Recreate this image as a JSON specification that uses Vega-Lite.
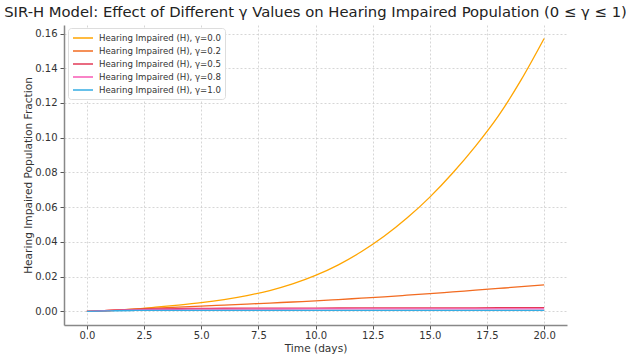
{
  "$schema": "https://vega.github.io/schema/vega-lite/v6.json",
  "width": 503,
  "height": 300,
  "autosize": {"type": "none"},
  "padding": {"left": 64, "top": 25, "right": 59, "bottom": 35},
  "background": "white",
  "title": {"text": "SIR-H Model: Effect of Different γ Values on Hearing Impaired Population (0 ≤ γ ≤ 1)", "font": "DejaVu Sans", "fontSize": 14.8, "fontWeight": "normal", "color": "#222222", "anchor": "middle", "offset": 5},
  "config": {
    "view": {"stroke": null},
    "axis": {"labelFont": "DejaVu Sans", "titleFont": "DejaVu Sans", "labelFontSize": 10, "titleFontSize": 10.6, "titleFontWeight": "normal", "labelColor": "#333333", "titleColor": "#333333", "domainColor": "#888888", "domainWidth": 1.5, "tickColor": "#555555", "tickSize": 4, "gridColor": "#cccccc", "gridDash": [2, 2], "gridWidth": 0.8}
  },
  "data": {"values": [
    {"t":0,"H":0,"s":"Hearing Impaired (H), γ=0.0"},
    {"t":1,"H":0.0005,"s":"Hearing Impaired (H), γ=0.0"},
    {"t":2,"H":0.0013,"s":"Hearing Impaired (H), γ=0.0"},
    {"t":3,"H":0.0024,"s":"Hearing Impaired (H), γ=0.0"},
    {"t":4,"H":0.0036,"s":"Hearing Impaired (H), γ=0.0"},
    {"t":5,"H":0.0050,"s":"Hearing Impaired (H), γ=0.0"},
    {"t":6,"H":0.0068,"s":"Hearing Impaired (H), γ=0.0"},
    {"t":7,"H":0.0091,"s":"Hearing Impaired (H), γ=0.0"},
    {"t":8,"H":0.0120,"s":"Hearing Impaired (H), γ=0.0"},
    {"t":9,"H":0.0158,"s":"Hearing Impaired (H), γ=0.0"},
    {"t":10,"H":0.0207,"s":"Hearing Impaired (H), γ=0.0"},
    {"t":11,"H":0.0268,"s":"Hearing Impaired (H), γ=0.0"},
    {"t":12,"H":0.0343,"s":"Hearing Impaired (H), γ=0.0"},
    {"t":13,"H":0.0432,"s":"Hearing Impaired (H), γ=0.0"},
    {"t":14,"H":0.0537,"s":"Hearing Impaired (H), γ=0.0"},
    {"t":15,"H":0.0658,"s":"Hearing Impaired (H), γ=0.0"},
    {"t":16,"H":0.0797,"s":"Hearing Impaired (H), γ=0.0"},
    {"t":17,"H":0.0952,"s":"Hearing Impaired (H), γ=0.0"},
    {"t":18,"H":0.1126,"s":"Hearing Impaired (H), γ=0.0"},
    {"t":19,"H":0.1334,"s":"Hearing Impaired (H), γ=0.0"},
    {"t":20,"H":0.1571,"s":"Hearing Impaired (H), γ=0.0"},
    {"t":0,"H":0,"s":"Hearing Impaired (H), γ=0.2"},
    {"t":1,"H":0.0005,"s":"Hearing Impaired (H), γ=0.2"},
    {"t":2,"H":0.0012,"s":"Hearing Impaired (H), γ=0.2"},
    {"t":3,"H":0.0019,"s":"Hearing Impaired (H), γ=0.2"},
    {"t":4,"H":0.0025,"s":"Hearing Impaired (H), γ=0.2"},
    {"t":5,"H":0.0030,"s":"Hearing Impaired (H), γ=0.2"},
    {"t":6,"H":0.0036,"s":"Hearing Impaired (H), γ=0.2"},
    {"t":7,"H":0.0042,"s":"Hearing Impaired (H), γ=0.2"},
    {"t":8,"H":0.0048,"s":"Hearing Impaired (H), γ=0.2"},
    {"t":9,"H":0.0054,"s":"Hearing Impaired (H), γ=0.2"},
    {"t":10,"H":0.0060,"s":"Hearing Impaired (H), γ=0.2"},
    {"t":11,"H":0.0068,"s":"Hearing Impaired (H), γ=0.2"},
    {"t":12,"H":0.0076,"s":"Hearing Impaired (H), γ=0.2"},
    {"t":13,"H":0.0084,"s":"Hearing Impaired (H), γ=0.2"},
    {"t":14,"H":0.0093,"s":"Hearing Impaired (H), γ=0.2"},
    {"t":15,"H":0.0102,"s":"Hearing Impaired (H), γ=0.2"},
    {"t":16,"H":0.0112,"s":"Hearing Impaired (H), γ=0.2"},
    {"t":17,"H":0.0122,"s":"Hearing Impaired (H), γ=0.2"},
    {"t":18,"H":0.0132,"s":"Hearing Impaired (H), γ=0.2"},
    {"t":19,"H":0.0142,"s":"Hearing Impaired (H), γ=0.2"},
    {"t":20,"H":0.0153,"s":"Hearing Impaired (H), γ=0.2"},
    {"t":0,"H":0,"s":"Hearing Impaired (H), γ=0.5"},
    {"t":1,"H":0.0006,"s":"Hearing Impaired (H), γ=0.5"},
    {"t":2,"H":0.0011,"s":"Hearing Impaired (H), γ=0.5"},
    {"t":3,"H":0.0014,"s":"Hearing Impaired (H), γ=0.5"},
    {"t":4,"H":0.0016,"s":"Hearing Impaired (H), γ=0.5"},
    {"t":5,"H":0.0017,"s":"Hearing Impaired (H), γ=0.5"},
    {"t":6,"H":0.0018,"s":"Hearing Impaired (H), γ=0.5"},
    {"t":8,"H":0.0019,"s":"Hearing Impaired (H), γ=0.5"},
    {"t":10,"H":0.0019,"s":"Hearing Impaired (H), γ=0.5"},
    {"t":12,"H":0.0020,"s":"Hearing Impaired (H), γ=0.5"},
    {"t":14,"H":0.0020,"s":"Hearing Impaired (H), γ=0.5"},
    {"t":16,"H":0.0020,"s":"Hearing Impaired (H), γ=0.5"},
    {"t":18,"H":0.0021,"s":"Hearing Impaired (H), γ=0.5"},
    {"t":20,"H":0.0021,"s":"Hearing Impaired (H), γ=0.5"},
    {"t":0,"H":0,"s":"Hearing Impaired (H), γ=0.8"},
    {"t":1,"H":0.0005,"s":"Hearing Impaired (H), γ=0.8"},
    {"t":2,"H":0.0009,"s":"Hearing Impaired (H), γ=0.8"},
    {"t":3,"H":0.0011,"s":"Hearing Impaired (H), γ=0.8"},
    {"t":4,"H":0.0012,"s":"Hearing Impaired (H), γ=0.8"},
    {"t":5,"H":0.0013,"s":"Hearing Impaired (H), γ=0.8"},
    {"t":7,"H":0.0013,"s":"Hearing Impaired (H), γ=0.8"},
    {"t":10,"H":0.0014,"s":"Hearing Impaired (H), γ=0.8"},
    {"t":15,"H":0.0014,"s":"Hearing Impaired (H), γ=0.8"},
    {"t":20,"H":0.0014,"s":"Hearing Impaired (H), γ=0.8"},
    {"t":0,"H":0,"s":"Hearing Impaired (H), γ=1.0"},
    {"t":1,"H":0.0003,"s":"Hearing Impaired (H), γ=1.0"},
    {"t":2,"H":0.0005,"s":"Hearing Impaired (H), γ=1.0"},
    {"t":3,"H":0.0006,"s":"Hearing Impaired (H), γ=1.0"},
    {"t":5,"H":0.0006,"s":"Hearing Impaired (H), γ=1.0"},
    {"t":10,"H":0.0006,"s":"Hearing Impaired (H), γ=1.0"},
    {"t":15,"H":0.0006,"s":"Hearing Impaired (H), γ=1.0"},
    {"t":20,"H":0.0006,"s":"Hearing Impaired (H), γ=1.0"}
  ]},
  "mark": {"type": "line", "interpolate": "monotone", "strokeWidth": 1.3, "clip": true},
  "encoding": {
    "x": {"field": "t", "type": "quantitative", "title": "Time (days)",
      "scale": {"domain": [-1, 21], "nice": false, "zero": false},
      "axis": {"values": [0, 2.5, 5, 7.5, 10, 12.5, 15, 17.5, 20], "format": ".1f", "titlePadding": 3, "labelPadding": 1}},
    "y": {"field": "H", "type": "quantitative", "title": "Hearing Impaired Population Fraction",
      "scale": {"domain": [-0.00785, 0.1649], "nice": false, "zero": false},
      "axis": {"values": [0, 0.02, 0.04, 0.06, 0.08, 0.1, 0.12, 0.14, 0.16], "format": ".2f", "titlePadding": 1, "labelPadding": 3}},
    "color": {"field": "s", "type": "nominal",
      "scale": {"domain": ["Hearing Impaired (H), γ=0.0", "Hearing Impaired (H), γ=0.2", "Hearing Impaired (H), γ=0.5", "Hearing Impaired (H), γ=0.8", "Hearing Impaired (H), γ=1.0"],
        "range": ["#FFA500", "#F26B21", "#E23A57", "#F75AB4", "#35ADE3"]},
      "legend": {"title": null, "orient": "none", "legendX": 4, "legendY": 3, "symbolType": "M-1,0H3", "symbolSize": 100, "symbolStrokeWidth": 1.5, "labelFont": "DejaVu Sans", "labelFontSize": 8.6, "labelColor": "#333333", "rowPadding": 2, "padding": 4, "strokeColor": "#dddddd", "fillColor": "white", "cornerRadius": 3, "labelOffset": 15}}
  }
}
